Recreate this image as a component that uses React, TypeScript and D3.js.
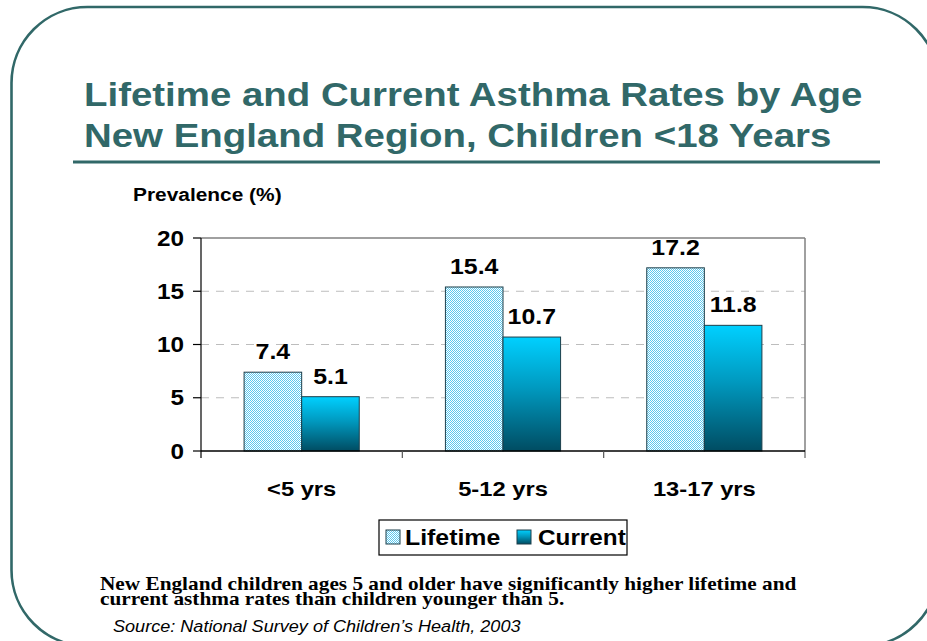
import React from "react";
import * as d3 from "d3";

const categories = ["<5 yrs", "5-12 yrs", "13-17 yrs"];
const seriesNames = ["Lifetime", "Current"];
const lifetime = [7.4, 15.4, 17.2];
const current = [5.1, 10.7, 11.8];
const yTicks = [0, 5, 10, 15, 20];
const titleLines = [
  "Lifetime and Current Asthma Rates by Age",
  "New England Region, Children <18 Years",
];
const noteLines = [
  "New England children ages 5 and older have significantly higher lifetime and",
  "current asthma rates than children younger than 5.",
];
const sourceText = "Source: National Survey of Children\u2019s Health, 2003";

const W = 927;
const H = 641;
const teal = "#316868";
const plot = { left: 201, right: 805, top: 238, bottom: 451 };
const sans = "'Liberation Sans', Arial, sans-serif";
const serif = "'Liberation Serif', 'Times New Roman', serif";
const SX = 1.13; // horizontal stretch of the slide typography

type TProps = {
  x: number;
  y: number;
  size: number;
  anchor?: "start" | "middle" | "end";
  family?: string;
  weight?: string;
  italic?: boolean;
  fill?: string;
  dy?: string;
  sx?: number;
  children: React.ReactNode;
};

function WideText({
  x,
  y,
  size,
  anchor = "start",
  family = sans,
  weight = "bold",
  italic = false,
  fill = "#000",
  dy,
  sx = SX,
  children,
}: TProps) {
  return (
    <text
      transform={`translate(${x},${y}) scale(${sx},1)`}
      textAnchor={anchor}
      fontFamily={family}
      fontWeight={weight}
      fontStyle={italic ? "italic" : "normal"}
      fontSize={size}
      fill={fill}
      dy={dy}
    >
      {children}
    </text>
  );
}

export default function App() {
  const x = d3.scaleBand<string>().domain(categories).range([plot.left, plot.right]).padding(0);
  const y = d3.scaleLinear().domain([0, 20]).range([plot.bottom, plot.top]);
  const bw = x.bandwidth() * 0.286;
  const sub = d3
    .scaleBand<string>()
    .domain(seriesNames)
    .range([x.bandwidth() / 2 - bw, x.bandwidth() / 2 + bw]);
  const values = [lifetime, current];
  const fills = ["url(#checker)", "url(#curGrad)"];

  return (
    <svg
      width={W}
      height={H}
      style={{ position: "absolute", left: 0, top: 0, background: "#fff" }}
    >
      <defs>
        <pattern id="checker" width="2" height="2" patternUnits="userSpaceOnUse">
          <rect width="2" height="2" fill="#ffffff" />
          <rect width="1" height="1" fill="#5cc8ee" />
          <rect x="1" y="1" width="1" height="1" fill="#5cc8ee" />
        </pattern>
        <linearGradient id="curGrad" x1="0" y1="0" x2="0" y2="1">
          <stop offset="0" stopColor="#00d0ff" />
          <stop offset="0.45" stopColor="#0099bf" />
          <stop offset="1" stopColor="#004c62" />
        </linearGradient>
      </defs>

      {/* slide frame */}
      <rect x={11.5} y={7} width={927} height={639} rx={76} ry={76} fill="none" stroke={teal} strokeWidth={2.6} />

      {/* title */}
      {titleLines.map((t, i) => (
        <WideText key={t} x={84} y={106 + i * 41} size={34} fill={teal}>
          {t}
        </WideText>
      ))}
      <line x1={73} x2={880} y1={162} y2={162} stroke={teal} strokeWidth={3} />

      <WideText x={133} y={201} size={18.5}>
        Prevalence (%)
      </WideText>

      {/* gridlines */}
      {yTicks
        .filter((t) => t > 0 && t < 20)
        .map((t) => (
          <line
            key={t}
            x1={plot.left}
            x2={plot.right}
            y1={y(t)}
            y2={y(t)}
            stroke="#bdbdbd"
            strokeWidth={1}
            strokeDasharray="8 7"
          />
        ))}

      {/* frame: top and right in grey */}
      <line x1={plot.left} x2={plot.right} y1={plot.top} y2={plot.top} stroke="#808080" strokeWidth={1.5} />
      <line x1={plot.right} x2={plot.right} y1={plot.top} y2={plot.bottom + 7} stroke="#808080" strokeWidth={1.5} />

      {/* bars */}
      {values.map((vals, si) =>
        vals.map((v, ci) => (
          <rect
            key={`${si}-${ci}`}
            x={(x(categories[ci]) ?? 0) + (sub(seriesNames[si]) ?? 0)}
            y={y(v)}
            width={bw}
            height={y(0) - y(v)}
            fill={fills[si]}
            stroke="#1d3f4b"
            strokeWidth={1}
          />
        ))
      )}

      {/* value labels */}
      {values.map((vals, si) =>
        vals.map((v, ci) => (
          <WideText
            key={`l${si}-${ci}`}
            x={(x(categories[ci]) ?? 0) + (sub(seriesNames[si]) ?? 0) + bw / 2}
            y={y(v) - 13}
            anchor="middle"
            size={22}
          >
            {v.toFixed(1)}
          </WideText>
        ))
      )}

      {/* y axis */}
      <line x1={plot.left} x2={plot.left} y1={plot.top} y2={plot.bottom + 7} stroke="#000" strokeWidth={1.2} />
      {yTicks.map((t) => (
        <g key={t}>
          <line x1={plot.left - 8} x2={plot.left} y1={y(t)} y2={y(t)} stroke="#000" strokeWidth={1.2} />
          <WideText x={184} y={y(t)} dy="0.36em" anchor="end" size={21.5}>
            {t}
          </WideText>
        </g>
      ))}

      {/* x axis */}
      <line x1={plot.left} x2={plot.right} y1={plot.bottom} y2={plot.bottom} stroke="#000" strokeWidth={1.5} />
      {categories.slice(1).map((c) => (
        <line
          key={c}
          x1={x(c)}
          x2={x(c)}
          y1={plot.bottom}
          y2={plot.bottom + 7}
          stroke="#555"
          strokeWidth={1.2}
        />
      ))}
      {categories.map((c) => (
        <WideText key={c} x={(x(c) ?? 0) + x.bandwidth() / 2} y={496} anchor="middle" size={21}>
          {c}
        </WideText>
      ))}

      {/* legend */}
      <rect x={379} y={520} width={248} height={35} fill="#fff" stroke="#000" strokeWidth={1.2} />
      <rect x={386} y={530} width={14} height={14} fill="url(#checker)" stroke="#1d3f4b" strokeWidth={1} />
      <WideText x={405} y={545} size={22}>
        {seriesNames[0]}
      </WideText>
      <rect x={517} y={530} width={14} height={14} fill="url(#curGrad)" stroke="#1d3f4b" strokeWidth={1} />
      <WideText x={538} y={545} size={21.5}>
        {seriesNames[1]}
      </WideText>

      {/* notes */}
      {noteLines.map((t, i) => (
        <WideText key={t} x={100} y={590 + i * 15} size={18.5} family={serif} sx={1.15}>
          {t}
        </WideText>
      ))}
      <WideText x={113} y={632} size={16} weight="normal" italic>
        {sourceText}
      </WideText>
    </svg>
  );
}
